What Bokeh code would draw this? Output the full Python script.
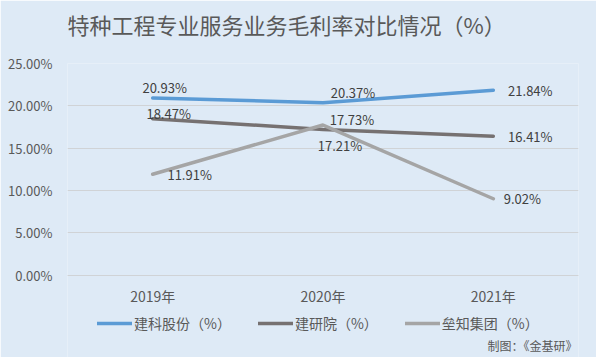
from bokeh.plotting import figure
from bokeh.models import (ColumnDataSource, PrintfTickFormatter, Legend, LegendItem,
                          Title, Label, Range1d, FactorRange)
from bokeh.embed import file_html
from bokeh.resources import INLINE
from bokeh.core.properties import value

years = ["2019年", "2020年", "2021年"]
jianke = [20.93, 20.37, 21.84]
jianyan = [18.47, 17.21, 16.41]
leizhi = [11.91, 17.73, 9.02]
series_names = ["建科股份（%）", "建研院（%）", "垒知集团（%）"]
colors = ["#5B9BD5", "#767171", "#A5A5A5"]
y_ticks = [0, 5, 10, 15, 20, 25]

# label offsets in pixels (style only)
offsets = [
    ([12, 30, 37], [-10, -10, 0]),
    ([16, 17, 37], [-5, 16, 0]),
    ([37, 29, 29], [0, -6, 0]),
]

FONT = "Noto Sans CJK SC"
BG = "#DEEAF6"
GRID = "#D0D3D6"

p = figure(width=596, height=357, x_range=FactorRange(*years), y_range=Range1d(-9.74, 25),
           output_backend="svg", toolbar_location=None, title=None,
           background_fill_color=BG, border_fill_color=BG,
           min_border_left=67, min_border_right=18, min_border_top=61, min_border_bottom=0)
p.outline_line_color = None

main_title = Title(text="特种工程专业服务业务毛利率对比情况（%）", align="left", offset=0,
                   padding=(0, 0, 0, 19), text_font=FONT, text_font_size="22px",
                   text_font_style="normal", text_color="#595959")
p.add_layout(main_title, "above")

p.yaxis.formatter = PrintfTickFormatter(format="%.2f%%")
p.yaxis.ticker = y_ticks
p.yaxis.axis_line_color = None
p.yaxis.major_tick_line_color = None
p.yaxis.minor_tick_line_color = None
p.yaxis.major_tick_out = 0
p.yaxis.major_label_text_font = FONT
p.yaxis.major_label_text_font_size = "13px"
p.yaxis.major_label_text_color = "#595959"
p.yaxis.major_label_standoff = 15

p.xaxis.fixed_location = 0
p.xaxis.axis_line_color = GRID
p.xaxis.major_tick_line_color = None
p.xaxis.minor_tick_line_color = None
p.xaxis.major_tick_out = 0
p.xaxis.major_label_text_font = FONT
p.xaxis.major_label_text_font_size = "14px"
p.xaxis.major_label_text_color = "#595959"
p.xaxis.major_label_standoff = 11

p.xgrid.grid_line_color = None
p.ygrid.grid_line_color = GRID

items = []
for vals, name, col, (dx, dy) in zip([jianke, jianyan, leizhi], series_names, colors, offsets):
    src = ColumnDataSource(dict(x=years, y=vals, t=[f"{v:.2f}%" for v in vals], dx=dx, dy=dy))
    r = p.line("x", "y", source=src, line_color=col, line_width=3.5, line_cap="round")
    items.append(LegendItem(label=name, renderers=[r]))
    p.text("x", "y", text="t", source=src, x_offset="dx", y_offset="dy",
           text_align="center", text_baseline="middle", text_font=value(FONT),
           text_font_size="13px", text_color="#404040")

legend = Legend(items=items, orientation="horizontal", location=(30, 24),
                background_fill_alpha=0, border_line_color=None,
                glyph_width=35, glyph_height=20, label_height=20, label_standoff=2,
                spacing=27, label_text_font=FONT, label_text_font_size="14px",
                label_text_color="#595959", padding=0, margin=0)
p.add_layout(legend, "center")

src_label = Label(x=510, y=12, x_units="screen", y_units="screen", text="制图：《金基研》",
                  text_align="right", text_baseline="middle", text_font=FONT,
                  text_font_size="12px", text_color="#595959")
p.add_layout(src_label)

open("out.html", "w").write(file_html(p, INLINE))
